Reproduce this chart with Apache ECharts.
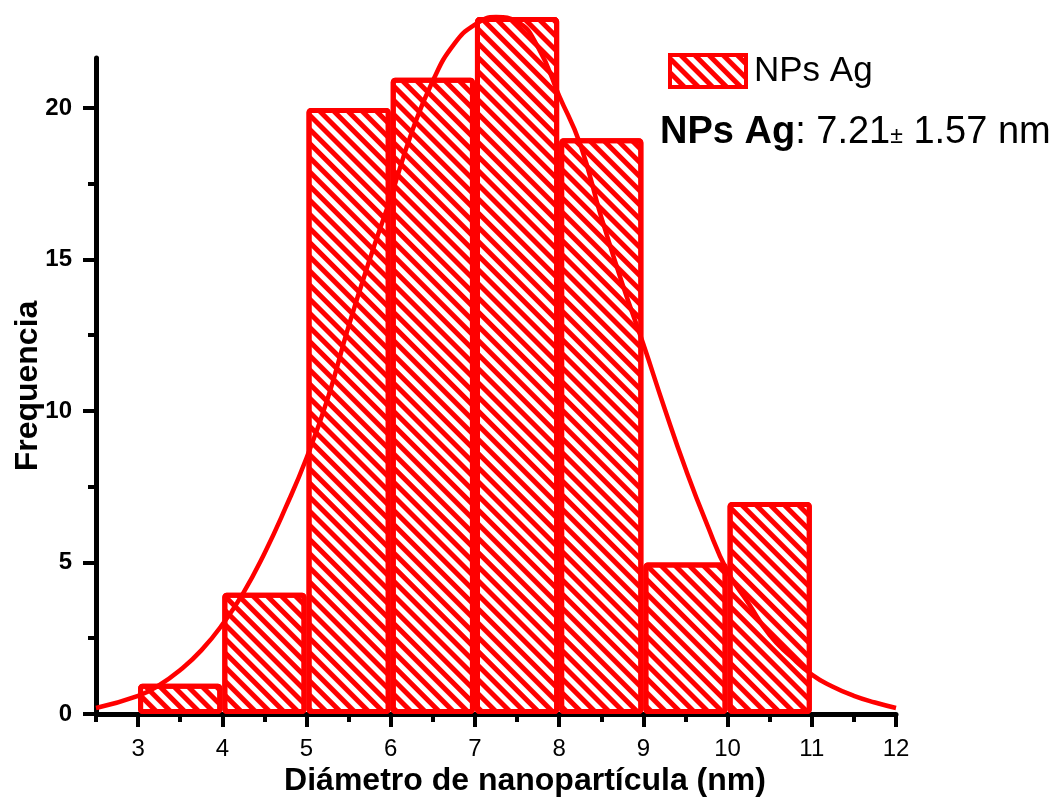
<!DOCTYPE html>
<html>
<head>
<meta charset="utf-8">
<script src="https://cdn.jsdelivr.net/npm/echarts@6/dist/echarts.min.js"></script>
<style>
  html, body { margin: 0; padding: 0; background: #fff; }
  #chart { width: 1058px; height: 800px; }
</style>
</head>
<body>
<div id="chart"></div>
<script>
// histogram bins (centre of each 1 nm bin) and counts
const binCenters = [3.5, 4.5, 5.5, 6.5, 7.5, 8.5, 9.5, 10.5];
const counts = [1, 4, 20, 21, 23, 19, 5, 7];

// gaussian fit curve
const fitX = [2.5, 3, 3.25, 3.5, 3.75, 4, 4.25, 4.5, 4.75, 5, 5.25, 5.5, 5.75, 6, 6.25, 6.5, 6.75,
  7, 7.25, 7.5, 7.75, 8, 8.25, 8.5, 8.75, 9, 9.25, 9.5, 9.75, 10, 10.25, 10.5, 10.75, 11, 11.25,
  11.5, 11.75, 12];
const fitY = [0.2, 0.6, 0.95, 1.45, 2.1, 2.95, 4.0, 5.3, 6.8, 8.45, 10.4, 12.8, 15.0, 17.05, 19.2,
  20.9, 22.1, 22.75, 23.0, 22.85, 22.0, 20.4, 18.8, 16.4, 14.2, 12.2, 10.1, 8.1, 6.3, 4.7, 3.65,
  2.6, 1.9, 1.3, 0.9, 0.6, 0.38, 0.2];

const xMajor = [3, 4, 5, 6, 7, 8, 9, 10, 11, 12];
const xMinor = [2.5, 3.5, 4.5, 5.5, 6.5, 7.5, 8.5, 9.5, 10.5, 11.5];
const yMajor = [0, 5, 10, 15, 20];
const yMinor = [2.5, 7.5, 12.5, 17.5];

const FONT = "'Liberation Sans', Arial, sans-serif";
const RED = "#ff0000";
const X_MIN = 2.5, X_MAX = 12, Y_MIN = 0, Y_MAX = 21.65;
const GRID = { left: 96, right: 162, top: 58, bottom: 86 };
const barW = (1058 - GRID.left - GRID.right) / (X_MAX - X_MIN);

// diagonal hatch like the origin pattern
const hatch = {
  symbol: "rect",
  symbolSize: 1,
  dashArrayX: [1, 0],
  dashArrayY: [4.2, 4.6],
  rotation: Math.PI / 4,
  color: RED
};

const chart = echarts.init(document.getElementById("chart"));

chart.setOption({
  animation: false,
  backgroundColor: "#fff",
  grid: Object.assign({ containLabel: false, outerBoundsMode: "none" }, GRID),
  title: {
    left: 655,
    top: 109,
    text: "{b|NPs Ag}{r|: 7.21}{pm|±}{r| 1.57 nm}",
    textStyle: {
      fontWeight: "normal",
      rich: {
        b: { fontFamily: FONT, fontSize: 38, fontWeight: "bold", color: "#000" },
        r: { fontFamily: FONT, fontSize: 38, fontWeight: "normal", color: "#000" },
        pm: { fontFamily: FONT, fontSize: 23, fontWeight: "normal", color: "#000", verticalAlign: "bottom", padding: [0, 0, 4, 0] }
      }
    }
  },
  legend: {
    data: [{ name: "NPs Ag", icon: "rect" }],
    left: 663,
    top: 48,
    itemWidth: 76,
    itemHeight: 32,
    itemStyle: { borderColor: RED, borderWidth: 4 },
    textStyle: { fontFamily: FONT, fontSize: 35, color: "#000", padding: [0, 0, 0, 3] }
  },
  xAxis: [{
    type: "value",
    min: X_MIN,
    max: X_MAX,
    name: "Diámetro de nanopartícula (nm)",
    nameLocation: "middle",
    nameGap: 51,
    nameMoveOverlap: false,
    nameTextStyle: { fontFamily: FONT, fontSize: 32, fontWeight: "bold", color: "#000", padding: [0, 0, 0, 58] },
    axisLine: { lineStyle: { color: "#000", width: 5, cap: "round" } },
    axisTick: { customValues: xMajor, length: 13, lineStyle: { color: "#000", width: 4 } },
    axisLabel: { customValues: xMajor, margin: 23, fontFamily: FONT, fontSize: 24, color: "#000" },
    splitLine: { show: false }
  }, {
    type: "value",
    position: "bottom",
    min: X_MIN,
    max: X_MAX,
    axisLine: { show: false },
    axisTick: { customValues: xMinor, length: 8, lineStyle: { color: "#000", width: 4 } },
    axisLabel: { show: false },
    splitLine: { show: false }
  }],
  yAxis: [{
    type: "value",
    min: Y_MIN,
    max: Y_MAX,
    name: "Frequencia",
    nameLocation: "middle",
    nameGap: 52,
    nameMoveOverlap: false,
    nameTextStyle: { fontFamily: FONT, fontSize: 32, fontWeight: "bold", color: "#000" },
    axisLine: { show: true, lineStyle: { color: "#000", width: 5, cap: "round" } },
    axisTick: { show: true, customValues: yMajor, length: 13, lineStyle: { color: "#000", width: 4 } },
    axisLabel: { customValues: yMajor, margin: 24, fontFamily: FONT, fontSize: 24, fontWeight: "bold", color: "#000" },
    splitLine: { show: false }
  }, {
    type: "value",
    position: "left",
    min: Y_MIN,
    max: Y_MAX,
    axisLine: { show: false },
    axisTick: { show: true, customValues: yMinor, length: 8, lineStyle: { color: "#000", width: 4 } },
    axisLabel: { show: false },
    splitLine: { show: false }
  }],
  series: [{
    name: "NPs Ag",
    type: "bar",
    clip: false,
    barWidth: barW,
    data: binCenters.map((x, i) => [x, counts[i]]),
    itemStyle: {
      color: "#fff",
      borderColor: RED,
      borderWidth: 5,
      borderRadius: 2,
      decal: hatch
    },
    z: 2
  }, {
    name: "fit",
    type: "line",
    clip: false,
    smooth: true,
    symbol: "none",
    data: fitX.map((x, i) => [x, fitY[i]]),
    lineStyle: { color: RED, width: 4.5 },
    z: 3
  }]
});
</script>
</body>
</html>
